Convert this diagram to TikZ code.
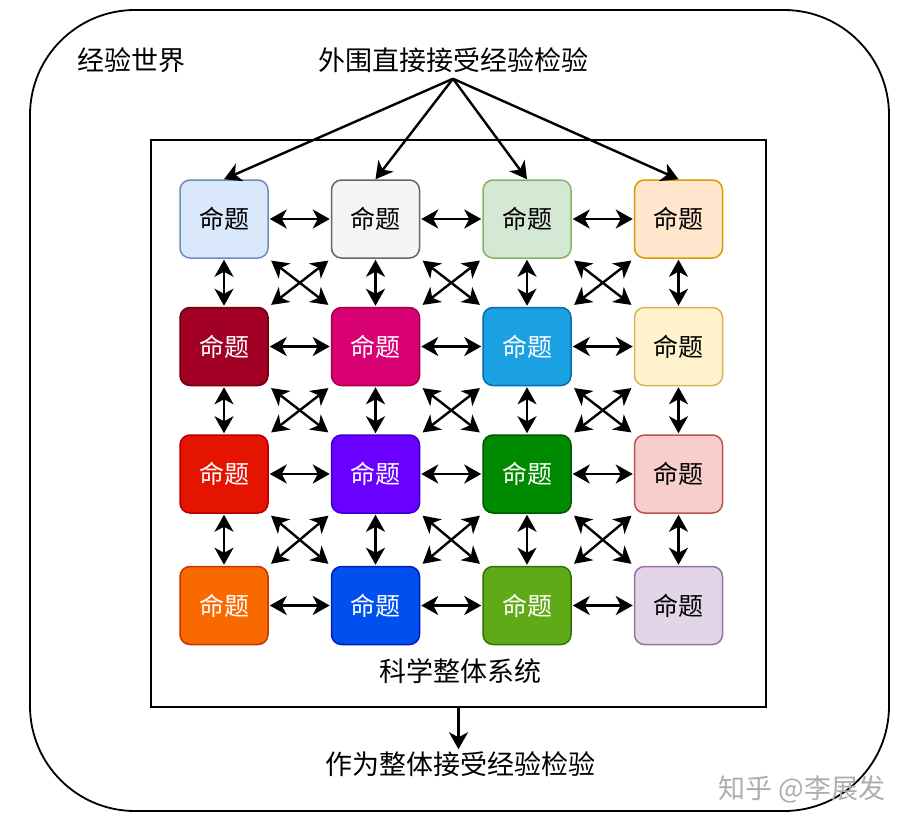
\documentclass[tikz,border=0pt]{standalone}
\usepackage{fontspec}
\setmainfont{Noto Sans CJK SC}
\usetikzlibrary{arrows.meta, positioning}

% draw.io palette
\definecolor{blueF}{HTML}{DAE8FC}   \definecolor{blueD}{HTML}{6C8EBF}
\definecolor{greyF}{HTML}{F5F5F5}   \definecolor{greyD}{HTML}{666666}
\definecolor{greenF}{HTML}{D5E8D4}  \definecolor{greenD}{HTML}{82B366}
\definecolor{orangeF}{HTML}{FFE6CC} \definecolor{orangeD}{HTML}{D79B00}
\definecolor{crimsonF}{HTML}{A20025} \definecolor{crimsonD}{HTML}{6F0000}
\definecolor{magentaF}{HTML}{D80073} \definecolor{magentaD}{HTML}{A50040}
\definecolor{cyanF}{HTML}{1BA1E2}   \definecolor{cyanD}{HTML}{006EAF}
\definecolor{yellowF}{HTML}{FFF2CC} \definecolor{yellowD}{HTML}{D6B656}
\definecolor{redF}{HTML}{E51400}    \definecolor{redD}{HTML}{B20000}
\definecolor{violetF}{HTML}{6A00FF} \definecolor{violetD}{HTML}{3700CC}
\definecolor{emeraldF}{HTML}{008A00} \definecolor{emeraldD}{HTML}{005700}
\definecolor{pinkF}{HTML}{F8CECC}   \definecolor{pinkD}{HTML}{B85450}
\definecolor{amberF}{HTML}{FA6800}  \definecolor{amberD}{HTML}{C73500}
\definecolor{cobaltF}{HTML}{0050EF} \definecolor{cobaltD}{HTML}{001DBC}
\definecolor{limeF}{HTML}{60A917}   \definecolor{limeD}{HTML}{2D7600}
\definecolor{purpleF}{HTML}{E1D5E7} \definecolor{purpleD}{HTML}{9673A6}

\tikzset{head/.tip={Stealth[length=17pt, width=19pt, inset=5pt]}}

\begin{document}
\begin{tikzpicture}[
    x=1pt, y=-1pt,
    node distance=48pt and 62pt,
    every node/.style={font=\fontsize{25}{29}\selectfont},
    prop/.style 2 args={
        rectangle,
        rounded corners=10pt,
        minimum width=88pt,
        minimum height=78pt,
        line width=1.5pt,
        fill=#1,
        draw=#2,
        text=black
    },
    dark/.style={text=white},
    caption/.style={font=\fontsize{27}{32}\selectfont, inner sep=2pt},
    frame/.style={line width=1.8pt},
    arrow/.style={line width=2.4pt, -head},
    both/.style={line width=2.4pt, head-head, shorten <=1pt, shorten >=1pt}
]
    \useasboundingbox (0,0) rectangle (909,825);

    % Outer world
    \draw [frame, rounded corners=105pt] (30,10) rectangle (889,811);
    \node (world) [caption] at (131,60) {经验世界};
    \node (top) [caption] at (453,60) {外围直接接受经验检验};

    % Scientific system box
    \node (sci) [frame, draw, minimum width=615pt, minimum height=567pt] at (458.5,423.5) {};
    \node (sys) [caption] at (460,671) {科学整体系统};
    \node (bottom) [caption] at (460,764) {作为整体接受经验检验};

    % Define nodes
    \node (p11) [prop={blueF}{blueD}] at (224,219) {命题};
    \node (p12) [prop={greyF}{greyD}, right=of p11] {命题};
    \node (p13) [prop={greenF}{greenD}, right=of p12] {命题};
    \node (p14) [prop={orangeF}{orangeD}, right=of p13] {命题};

    \node (p21) [prop={crimsonF}{crimsonD}, dark, below=of p11] {命题};
    \node (p22) [prop={magentaF}{magentaD}, dark, right=of p21] {命题};
    \node (p23) [prop={cyanF}{cyanD}, dark, right=of p22] {命题};
    \node (p24) [prop={yellowF}{yellowD}, right=of p23] {命题};

    \node (p31) [prop={redF}{redD}, dark, below=of p21] {命题};
    \node (p32) [prop={violetF}{violetD}, dark, right=of p31] {命题};
    \node (p33) [prop={emeraldF}{emeraldD}, dark, right=of p32] {命题};
    \node (p34) [prop={pinkF}{pinkD}, right=of p33] {命题};

    \node (p41) [prop={amberF}{amberD}, dark, below=52pt of p31] {命题};
    \node (p42) [prop={cobaltF}{cobaltD}, dark, right=of p41] {命题};
    \node (p43) [prop={limeF}{limeD}, dark, right=of p42] {命题};
    \node (p44) [prop={purpleF}{purpleD}, right=of p43] {命题};

    \node (mark) [text=black!32, font=\fontsize{27}{32}\selectfont] at (802,789) {知乎 @李展发};

    % Draw connections
    \coordinate [below=4pt of top] (fan);
    \foreach \c in {1,...,4}
        \draw [arrow] (fan) -- (p1\c.north);

    % rows and columns
    \foreach \r in {1,...,4}
        \foreach \c/\n in {1/2,2/3,3/4} {
            \draw [both] (p\r\c) -- (p\r\n);
            \draw [both] (p\c\r) -- (p\n\r);
        }

    % crosses between the cells
    \foreach \r/\s in {1/2,2/3,3/4}
        \foreach \c/\n in {1/2,2/3,3/4} {
            \draw [both, shorten <=3pt, shorten >=3pt] (p\r\c.south east) -- (p\s\n.north west);
            \draw [both, shorten <=3pt, shorten >=3pt] (p\r\n.south west) -- (p\s\c.north east);
        }

    \draw [arrow] (sci.south) -- (sci.south |- bottom.north);

\end{tikzpicture}
\end{document}
